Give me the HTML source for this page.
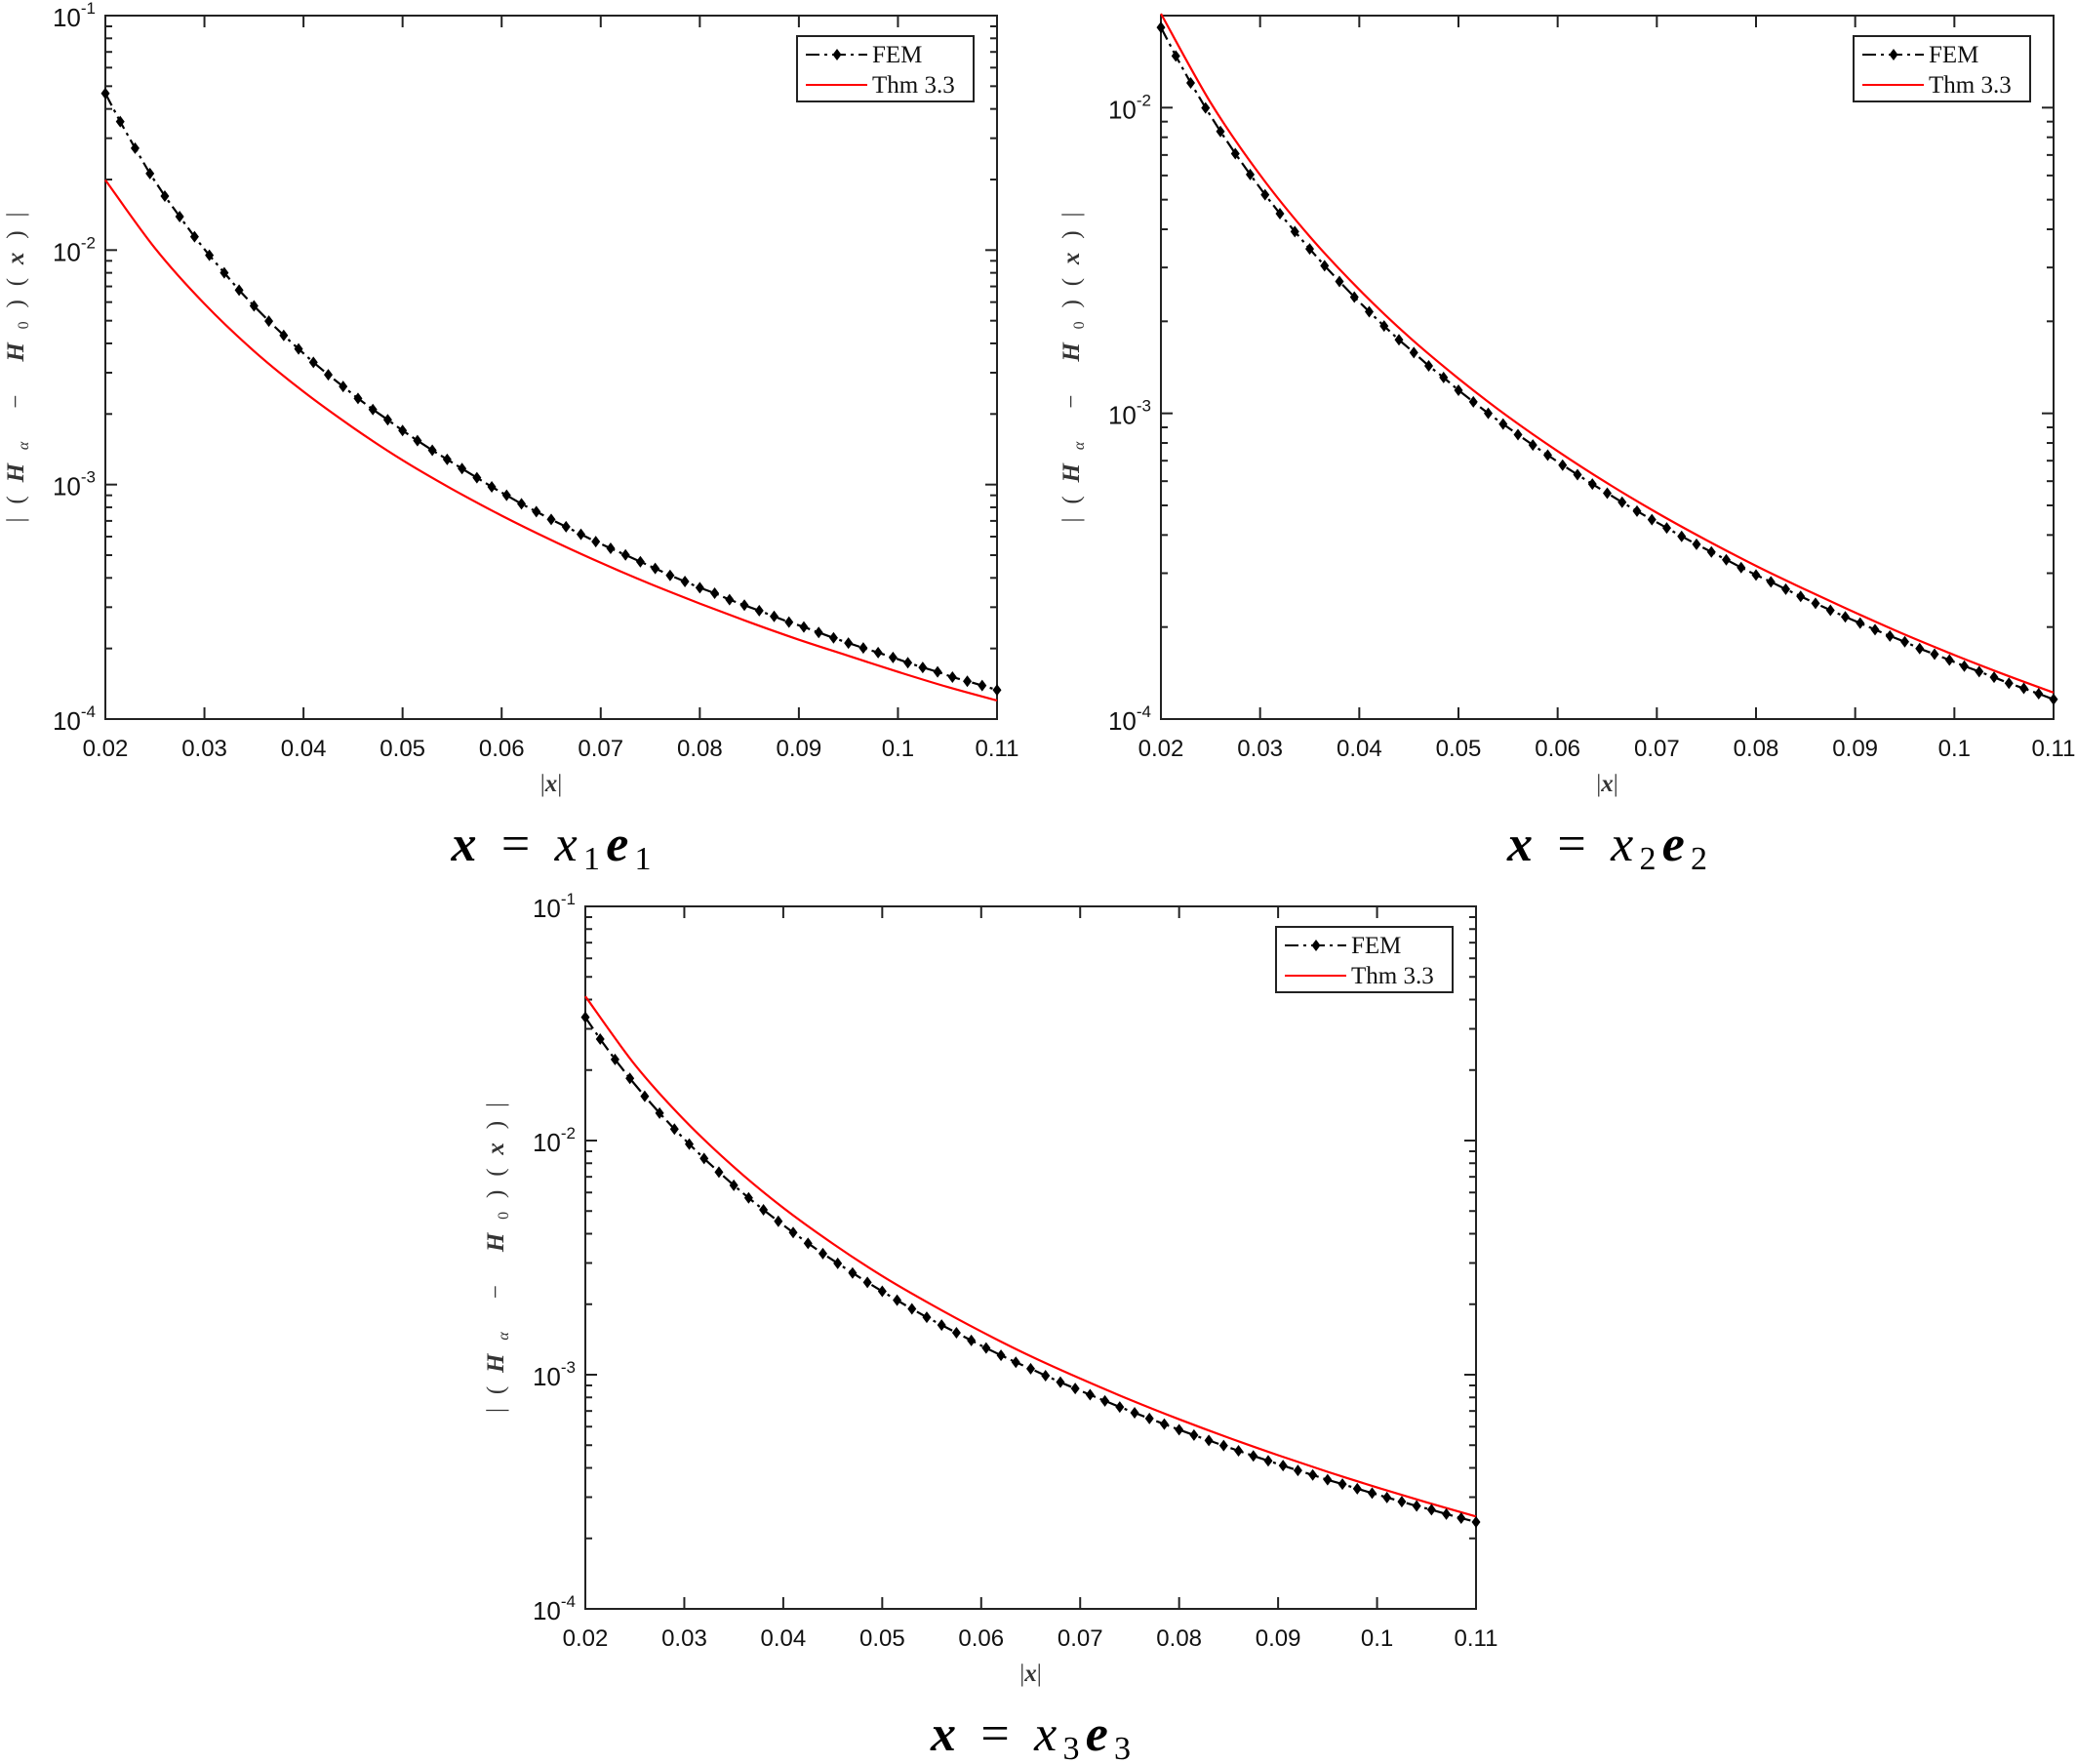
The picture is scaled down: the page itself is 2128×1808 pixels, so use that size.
<!DOCTYPE html>
<html><head><meta charset="utf-8"><style>
html,body{margin:0;padding:0;background:#fff}
svg{display:block}
text{font-family:"Liberation Sans",sans-serif}
.serif{font-family:"Liberation Serif",serif}
</style></head><body>
<svg id="fig" xmlns="http://www.w3.org/2000/svg" width="2128" height="1808" viewBox="0 0 2128 1808">
<rect width="2128" height="1808" fill="#fff"/>
</svg>
<script>
const xTicks=[0.02,0.03,0.04,0.05,0.06,0.07,0.08,0.09,0.1,0.11];
const xTickLabels=["0.02","0.03","0.04","0.05","0.06","0.07","0.08","0.09","0.1","0.11"];
const femX=[0.02,0.0215,0.023,0.0245,0.026,0.0275,0.029,0.0305,0.032,0.0335,0.035,0.0365,0.038,0.0395,0.041,0.0425,0.044,0.0455,0.047,0.0485,0.05,0.0515,0.053,0.0545,0.056,0.0575,0.059,0.0605,0.062,0.0635,0.065,0.0665,0.068,0.0695,0.071,0.0725,0.074,0.0755,0.077,0.0785,0.08,0.0815,0.083,0.0845,0.086,0.0875,0.089,0.0905,0.092,0.0935,0.095,0.0965,0.098,0.0995,0.101,0.1025,0.104,0.1055,0.107,0.1085,0.11];
const thmX=[0.02,0.025,0.03,0.035,0.04,0.045,0.05,0.055,0.06,0.065,0.07,0.075,0.08,0.085,0.09,0.095,0.1,0.105,0.11];
const fem1=[0.0466,0.0353,0.0272,0.0212,0.0170,0.0139,0.0114,0.0095,0.0080,0.00675,0.00578,0.00498,0.00433,0.00379,0.00332,0.00294,0.00262,0.00233,0.00209,0.00189,0.00170,0.00154,0.00140,0.00128,0.00117,0.00107,0.000978,0.000900,0.000828,0.000767,0.000710,0.000661,0.000614,0.000571,0.000535,0.000501,0.000469,0.000439,0.000410,0.000386,0.000363,0.000344,0.000323,0.000306,0.000290,0.000274,0.000259,0.000247,0.000234,0.000222,0.000211,0.000201,0.000192,0.000183,0.000174,0.000166,0.000159,0.000151,0.000145,0.000139,0.000133];
const thm1=[0.0199,0.0102,0.0059,0.00371,0.00249,0.00175,0.00127,0.000957,0.000737,0.00058,0.000464,0.000377,0.000311,0.000259,0.000218,0.000186,0.000159,0.000137,0.00012];
const fem2=[0.0183,0.01475,0.01205,0.00998,0.00836,0.00707,0.00604,0.00519,0.00450,0.00393,0.00345,0.00304,0.00270,0.00240,0.00215,0.00193,0.00174,0.00158,0.00143,0.00131,0.00119,0.00109,0.00100,0.000923,0.000852,0.000788,0.000730,0.000677,0.000630,0.000587,0.000548,0.000512,0.000479,0.000449,0.000422,0.000396,0.000373,0.000352,0.000332,0.000313,0.000296,0.000281,0.000266,0.000252,0.000239,0.000227,0.000216,0.000206,0.000196,0.000187,0.000179,0.000170,0.000163,0.000156,0.000149,0.000143,0.000137,0.000131,0.000126,0.000121,0.000116];
const thm2=[0.0203,0.0104,0.00602,0.00379,0.00254,0.00178,0.0013,0.000976,0.000752,0.000591,0.000473,0.000385,0.000317,0.000265,0.000223,0.000189,0.000162,0.00014,0.000122];
const fem3=[0.0336,0.02712,0.02221,0.01843,0.01546,0.01310,0.01120,0.00966,0.00838,0.00733,0.00644,0.00569,0.00506,0.00452,0.00405,0.00364,0.00329,0.00299,0.00272,0.00248,0.00227,0.00208,0.00191,0.00176,0.00163,0.00151,0.00140,0.00130,0.00121,0.00113,0.00106,0.000991,0.000929,0.000873,0.000821,0.000773,0.000728,0.000688,0.000650,0.000615,0.000582,0.000552,0.000524,0.000498,0.000473,0.000450,0.000429,0.000409,0.000390,0.000373,0.000356,0.000341,0.000326,0.000312,0.000299,0.000287,0.000275,0.000265,0.000254,0.000244,0.000235];
const thm3=[0.0413,0.0211,0.01224,0.00771,0.00516,0.00363,0.00264,0.00199,0.00153,0.0012,0.000963,0.000783,0.000645,0.000538,0.000453,0.000385,0.00033,0.000285,0.000248];
const legendLabels=["FEM","Thm 3.3"];
const NS="http://www.w3.org/2000/svg";
const svg=document.getElementById('fig');
function mk(tag,attrs,parent){const e=document.createElementNS(NS,tag);for(const k in attrs)e.setAttribute(k,attrs[k]);(parent||svg).appendChild(e);return e;}
function ts(parent,txt,attrs){const t=document.createElementNS(NS,'tspan');for(const k in (attrs||{}))t.setAttribute(k,attrs[k]);t.textContent=txt;parent.appendChild(t);return t;}
function smoothPath(pts){
  let d='M'+pts[0][0].toFixed(1)+','+pts[0][1].toFixed(1);
  for(let i=0;i<pts.length-1;i++){
    const p0=pts[i-1]||pts[i],p1=pts[i],p2=pts[i+1],p3=pts[i+2]||p2;
    const c1=[p1[0]+(p2[0]-p0[0])/6,p1[1]+(p2[1]-p0[1])/6];
    const c2=[p2[0]-(p3[0]-p1[0])/6,p2[1]-(p3[1]-p1[1])/6];
    d+=' C'+c1[0].toFixed(1)+','+c1[1].toFixed(1)+' '+c2[0].toFixed(1)+','+c2[1].toFixed(1)+' '+p2[0].toFixed(1)+','+p2[1].toFixed(1);
  }
  return d;
}

function panel(id,L,T,R,B,ymaxVal,fem,thm,sub){
  const g=mk('g',{});
  
  
  const lmin=-4,lmax=Math.log10(ymaxVal);
  const xs=v=>L+(v-0.02)/(0.11-0.02)*(R-L);
  const ys=v=>B-(Math.log10(v)-lmin)/(lmax-lmin)*(B-T);
  const tk=mk('g',{stroke:'#222','stroke-width':2},g);
  
  
  xTicks.forEach((v,i)=>{
    const x=xs(v);
    mk('line',{x1:x,y1:B,x2:x,y2:B-12},tk);
    mk('line',{x1:x,y1:T,x2:x,y2:T+12},tk);
    const t=mk('text',{x:x,y:B+38,'font-size':24,'text-anchor':'middle',fill:'#111'},g);
    
    
    t.textContent=xTickLabels[i];
  });
  for(let d=-4;d<=-1;d++){
    for(let m=1;m<=9;m++){
      const v=m*Math.pow(10,d);
      const lv=Math.log10(v);
      if(lv<lmin-1e-9||lv>lmax+1e-9)continue;
      const y=ys(v),len=m===1?12:7;
      mk('line',{x1:L,y1:y,x2:L+len,y2:y},tk);
      mk('line',{x1:R,y1:y,x2:R-len,y2:y},tk);
      if(m===1){
        const t=mk('text',{x:L-10,y:y+11,'font-size':26,'text-anchor':'end',fill:'#111'},g);
        
        
        ts(t,'10');ts(t,String(d),{'font-size':17,dy:-13});
      }
    }
  }
  const box=mk('rect',{x:L,y:T,width:R-L,height:B-T,fill:'none',stroke:'#222','stroke-width':2},g);
  
  
  const tpts=thmX.map((x,i)=>[xs(x),ys(thm[i])]);
  const tl=mk('path',{d:smoothPath(tpts),fill:'none',stroke:'#f00','stroke-width':2.2},g);
  
  
  const fp=femX.map((x,i)=>xs(x).toFixed(1)+','+ys(fem[i]).toFixed(1)).join(' ');
  const fl=mk('polyline',{points:fp,fill:'none',stroke:'#000','stroke-width':2.2,'stroke-dasharray':'14 5 3 5'},g);
  
  
  femX.forEach((x,i)=>{
    const cx=xs(x),cy=ys(fem[i]);
    const p=mk('polygon',{points:`${cx},${cy-6} ${cx+4.5},${cy} ${cx},${cy+6} ${cx-4.5},${cy}`,fill:'#000'},g);
    
    
  });
  const lx=R-205,ly=T+21;
  const lg=mk('g',{},g);
  
  
  mk('rect',{x:lx,y:ly,width:181,height:67,fill:'#fff',stroke:'#222','stroke-width':2},lg);
  mk('line',{x1:lx+9,y1:ly+19,x2:lx+72,y2:ly+19,stroke:'#000','stroke-width':2,'stroke-dasharray':'14 5 3 5'},lg);
  mk('polygon',{points:`${lx+41},${ly+13} ${lx+45.5},${ly+19} ${lx+41},${ly+25} ${lx+36.5},${ly+19}`,fill:'#000'},lg);
  mk('line',{x1:lx+9,y1:ly+50,x2:lx+72,y2:ly+50,stroke:'#f00','stroke-width':2},lg);
  legendLabels.forEach((s,i)=>{
    const t=mk('text',{x:lx+77,y:ly+27+i*31,'font-size':25,fill:'#111',class:'serif'},lg);
    
    
    t.textContent=s;
  });
  const cy=(T+B)/2,tx=L-84;
  const yt=mk('text',{x:tx,y:cy,'font-size':25,'text-anchor':'middle',fill:'#333',class:'serif',textLength:318,lengthAdjust:'spacing',transform:`rotate(-90 ${tx} ${cy})`},g);
  
  
  ts(yt,'|(');ts(yt,'H',{'font-weight':'bold','font-style':'italic'});ts(yt,'α',{'font-size':16,'font-style':'italic',dy:5});
  ts(yt,' − ',{dy:-5});ts(yt,'H',{'font-weight':'bold','font-style':'italic'});ts(yt,'0',{'font-size':16,dy:5});
  ts(yt,')(',{dy:-5});ts(yt,'x',{'font-weight':'bold','font-style':'italic'});ts(yt,')|');
  const xt=mk('text',{x:(L+R)/2,y:B+74,'font-size':25,'text-anchor':'middle',fill:'#333',class:'serif'},g);
  
  
  ts(xt,'|');ts(xt,'x',{'font-weight':'bold','font-style':'italic'});ts(xt,'|');
  const ct=mk('text',{x:(L+R)/2,y:B+145,'font-size':52,'text-anchor':'middle',fill:'#000',class:'serif',textLength:205,lengthAdjust:'spacing'},g);
  
  
  ts(ct,'x',{'font-weight':'bold','font-style':'italic'});ts(ct,' = ');ts(ct,'x',{'font-style':'italic'});
  ts(ct,sub,{'font-size':34,dy:9});ts(ct,'e',{'font-weight':'bold','font-style':'italic',dy:-9});ts(ct,sub,{'font-size':34,dy:9});
}
panel('x1',108,16,1022,737,0.1,fem1,thm1,'1');
panel('x2',1190,16,2105,737,0.02,fem2,thm2,'2');
panel('x3',600,929,1513,1649,0.1,fem3,thm3,'3');
</script>
</body></html>
